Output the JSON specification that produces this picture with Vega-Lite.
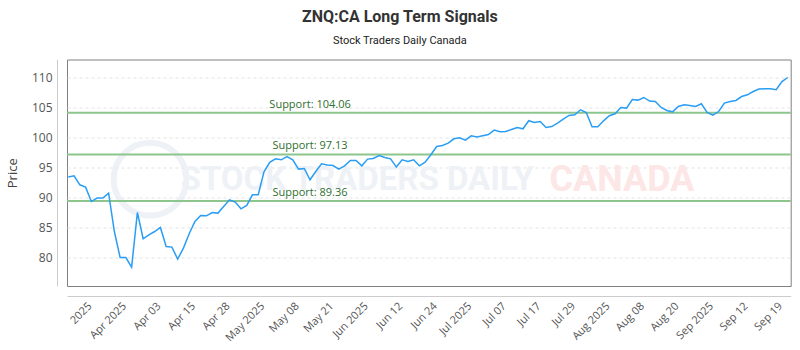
{
  "$schema": "https://vega.github.io/schema/vega-lite/v6.json",
  "width": 723.7,
  "height": 226.5,
  "autosize": {"type": "none"},
  "padding": {"left": 67, "top": 59.5, "right": 9.3, "bottom": 64},
  "background": "white",
  "title": {
    "text": "ZNQ:CA Long Term Signals",
    "subtitle": "Stock Traders Daily Canada",
    "anchor": "middle",
    "dx": -29,
    "offset": 14,
    "font": "Roboto",
    "fontSize": 16,
    "fontWeight": "bold",
    "color": "#333333",
    "subtitleFont": "Roboto",
    "subtitleFontSize": 11,
    "subtitleColor": "#222222",
    "subtitlePadding": 10
  },
  "config": {
    "view": {"stroke": "#808080", "strokeWidth": 1},
    "font": "Open Sans"
  },
  "datasets": {
    "prices": [
      {"i":0,"price":93.35},{"i":1,"price":93.57},{"i":2,"price":92.07},{"i":3,"price":91.68},{"i":4,"price":89.28},
      {"i":5,"price":89.85},{"i":6,"price":89.85},{"i":7,"price":90.68},{"i":8,"price":84.28},{"i":9,"price":79.95},
      {"i":10,"price":79.95},{"i":11,"price":78.35},{"i":12,"price":87.45},{"i":13,"price":83.07},{"i":14,"price":83.73},
      {"i":15,"price":84.28},{"i":16,"price":84.95},{"i":17,"price":81.78},{"i":18,"price":81.68},{"i":19,"price":79.68},
      {"i":20,"price":81.52},{"i":21,"price":83.9},{"i":22,"price":85.95},{"i":23,"price":86.95},{"i":24,"price":86.9},
      {"i":25,"price":87.45},{"i":26,"price":87.35},{"i":27,"price":88.45},{"i":28,"price":89.57},{"i":29,"price":89.18},
      {"i":30,"price":88.07},{"i":31,"price":88.62},{"i":32,"price":90.4},{"i":33,"price":90.4},{"i":34,"price":94.23},
      {"i":35,"price":95.82},{"i":36,"price":96.4},{"i":37,"price":96.23},{"i":38,"price":96.78},{"i":39,"price":96.23},
      {"i":40,"price":94.68},{"i":41,"price":94.78},{"i":42,"price":92.9},{"i":43,"price":94.28},{"i":44,"price":95.57},
      {"i":45,"price":95.35},{"i":46,"price":95.28},{"i":47,"price":94.68},{"i":48,"price":95.23},{"i":49,"price":96.12},
      {"i":50,"price":96.12},{"i":51,"price":95.23},{"i":52,"price":96.35},{"i":53,"price":96.45},{"i":54,"price":96.95},
      {"i":55,"price":96.62},{"i":56,"price":96.4},{"i":57,"price":95.02},{"i":58,"price":96.23},{"i":59,"price":95.95},
      {"i":60,"price":96.23},{"i":61,"price":95.23},{"i":62,"price":95.85},{"i":63,"price":97.07},{"i":64,"price":98.45},
      {"i":65,"price":98.62},{"i":66,"price":99.02},{"i":67,"price":99.73},{"i":68,"price":99.9},{"i":69,"price":99.52},
      {"i":70,"price":100.23},{"i":71,"price":100.02},{"i":72,"price":100.23},{"i":73,"price":100.45},{"i":74,"price":101.18},
      {"i":75,"price":100.9},{"i":76,"price":100.95},{"i":77,"price":101.28},{"i":78,"price":101.62},{"i":79,"price":101.4},
      {"i":80,"price":102.75},{"i":81,"price":102.45},{"i":82,"price":102.62},{"i":83,"price":101.62},{"i":84,"price":101.78},
      {"i":85,"price":102.35},{"i":86,"price":103.02},{"i":87,"price":103.62},{"i":88,"price":103.73},{"i":89,"price":104.57},
      {"i":90,"price":104.12},{"i":91,"price":101.73},{"i":92,"price":101.73},{"i":93,"price":102.73},{"i":94,"price":103.57},
      {"i":95,"price":103.9},{"i":96,"price":104.95},{"i":97,"price":104.85},{"i":98,"price":106.28},{"i":99,"price":106.18},
      {"i":100,"price":106.62},{"i":101,"price":106.02},{"i":102,"price":105.95},{"i":103,"price":104.95},{"i":104,"price":104.45},
      {"i":105,"price":104.23},{"i":106,"price":105.12},{"i":107,"price":105.4},{"i":108,"price":105.28},{"i":109,"price":105.12},
      {"i":110,"price":105.57},{"i":111,"price":104.12},{"i":112,"price":103.68},{"i":113,"price":104.28},{"i":114,"price":105.68},
      {"i":115,"price":105.95},{"i":116,"price":106.12},{"i":117,"price":106.78},{"i":118,"price":107.07},{"i":119,"price":107.62},
      {"i":120,"price":108.02},{"i":121,"price":108.07},{"i":122,"price":108.07},{"i":123,"price":107.9},{"i":124,"price":109.28},
      {"i":125,"price":109.95}
    ],
    "supports": [
      {"level": 104.06, "label": "Support: 104.06"},
      {"level": 97.13, "label": "Support: 97.13"},
      {"level": 89.36, "label": "Support: 89.36"}
    ]
  },
  "layer": [
    {
      "data": {"values": [{}]},
      "mark": {"type": "point", "shape": "circle", "size": 5300, "filled": false, "stroke": "#e8edf3", "strokeWidth": 6},
      "encoding": {
        "x": {"datum": 14.2, "type": "quantitative"},
        "y": {"datum": 93.0, "type": "quantitative"}
      }
    },
    {
      "data": {"values": [{}]},
      "mark": {"type": "text", "text": "STOCK TRADERS DAILY", "font": "Roboto", "fontSize": 33, "fontWeight": "bold", "fill": "#eef2f6", "align": "center", "baseline": "middle"},
      "encoding": {
        "x": {"datum": 50.2, "type": "quantitative"},
        "y": {"datum": 92.9, "type": "quantitative"}
      }
    },
    {
      "data": {"values": [{}]},
      "mark": {"type": "text", "text": "CANADA", "font": "Roboto", "fontSize": 36, "fontWeight": "bold", "fill": "#fde6e6", "align": "center", "baseline": "middle"},
      "encoding": {
        "x": {"datum": 96.2, "type": "quantitative"},
        "y": {"datum": 92.9, "type": "quantitative"}
      }
    },
    {
      "data": {"name": "supports"},
      "mark": {"type": "rule", "stroke": "#8cc68c", "strokeWidth": 2},
      "encoding": {
        "y": {"field": "level", "type": "quantitative"}
      }
    },
    {
      "data": {"name": "supports"},
      "mark": {"type": "text", "align": "center", "baseline": "bottom", "dy": -3, "fontSize": 11, "fill": "#2f6f2f", "font": "Open Sans"},
      "encoding": {
        "x": {"datum": 42, "type": "quantitative"},
        "y": {"field": "level", "type": "quantitative"},
        "text": {"field": "label"}
      }
    },
    {
      "data": {"name": "prices"},
      "mark": {"type": "line", "stroke": "#2a9df4", "strokeWidth": 1.5},
      "encoding": {
        "x": {
          "field": "i",
          "type": "quantitative",
          "scale": {"domain": [-0.23, 125.52], "nice": false, "zero": false},
          "axis": {
            "title": null,
            "values": [3,9,15,21,27,33,39,45,51,57,63,69,75,81,87,93,99,105,111,117,123],
            "tickCount": 40,
            "labelExpr": "['2025','Apr 2025','Apr 03','Apr 15','Apr 28','May 2025','May 08','May 21','Jun 2025','Jun 12','Jun 24','Jul 2025','Jul 07','Jul 17','Jul 29','Aug 2025','Aug 08','Aug 20','Sep 2025','Sep 12','Sep 19'][(datum.value - 3) / 6]",
            "labelAngle": -45,
            "labelAlign": "right",
            "labelBaseline": "top",
            "labelFontSize": 11,
            "labelColor": "#555555",
            "labelPadding": 4,
            "labelOverlap": false,
            "ticks": false,
            "grid": false,
            "offset": 10,
            "domainColor": "#cccccc"
          }
        },
        "y": {
          "field": "price",
          "type": "quantitative",
          "scale": {"domain": [75.2, 112.95], "nice": false, "zero": false},
          "axis": {
            "title": "Price",
            "titleFontSize": 13,
            "titleFontWeight": "normal",
            "titleColor": "#444444",
            "titlePadding": 12,
            "values": [80, 85, 90, 95, 100, 105, 110],
            "tickCount": 20,
            "labelOverlap": false,
            "labelFontSize": 12,
            "labelColor": "#555555",
            "labelPadding": 5,
            "ticks": false,
            "offset": 10,
            "domainColor": "#cccccc",
            "grid": true,
            "gridColor": "#e3e3e3",
            "gridDash": [3, 3]
          }
        }
      }
    }
  ]
}
